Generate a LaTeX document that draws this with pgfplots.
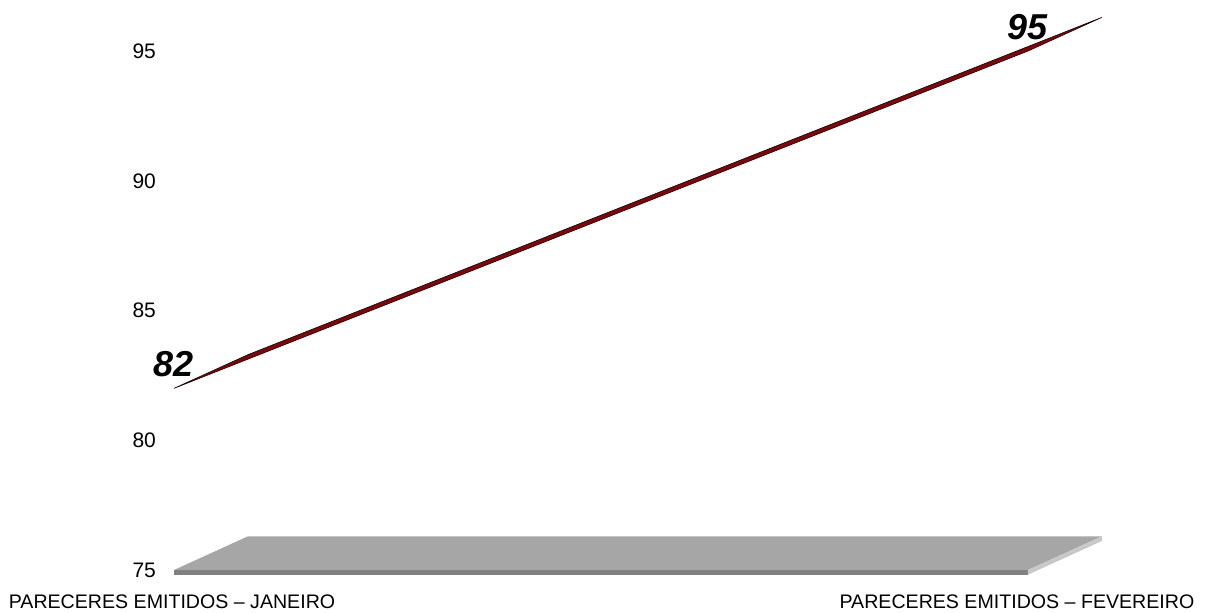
\documentclass[border=0pt]{standalone}
\usepackage{pgfplots}
\pgfplotsset{compat=1.18}
\usepackage{fontspec}
\setmainfont{Liberation Sans}
\definecolor{ribbon}{RGB}{122,8,12}
\definecolor{floortop}{RGB}{166,166,166}
\definecolor{floorfront}{RGB}{128,128,128}
\definecolor{floorside}{RGB}{200,200,200}
\begin{document}
\begin{tikzpicture}[x=1pt,y=1pt]
\begin{axis}[
  at={(0,0)}, anchor=south west,
  scale only axis,
  width=464pt, height=276.35pt,
  xmin=0, xmax=1.0867,
  ymin=75, ymax=96.3,
  clip=false,
  axis line style={draw=none},
  major tick length=0pt,
  xtick={0,1},
  xticklabels={{PARECERES EMITIDOS – JANEIRO\hspace*{2pt}}, {PARECERES EMITIDOS – FEVEREIRO\hspace*{11pt}}},
  ytick={75,80,85,90,95},
  /pgf/number format/assume math mode=true,
  yticklabel style={xshift=-5.5pt, font=\fontsize{10.5}{12}\selectfont},
  xticklabel style={yshift=-9pt, font=\fontsize{9.8}{11}\selectfont},
]
% floor
\addplot[fill=floortop, draw=none] coordinates {(0,75) (1,75) (1.0867,76.3) (0.0867,76.3)} -- cycle;
\addplot[fill=floorfront, draw=none] coordinates {(0,75) (1,75) (1,74.82) (0,74.82)} -- cycle;
\addplot[fill=floorside, draw=none] coordinates {(1,75) (1.0867,76.3) (1.0867,76.12) (1,74.82)} -- cycle;
% ribbon
\addplot[fill=ribbon, draw=black!80!ribbon, line width=0.3pt] coordinates {(0,82) (1,95) (1.0867,96.3) (0.0867,83.3)} -- cycle;
% labels
\addplot[draw=none, mark=none, nodes near coords,
  every node near coord/.style={anchor=south, yshift=2pt, font=\fontsize{18}{20}\selectfont\bfseries\itshape}]
  coordinates {(0,82) (1,95)};
\end{axis}
\pgfresetboundingbox
\useasboundingbox (-87,-21) rectangle (516.5,285);
\end{tikzpicture}
\end{document}
